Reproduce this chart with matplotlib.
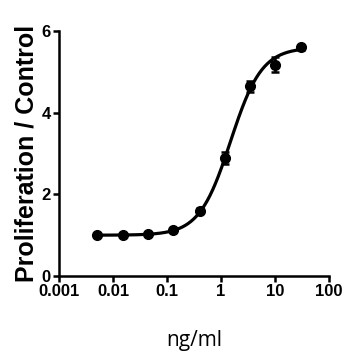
import numpy as np
import matplotlib.pyplot as plt

conc = [0.005, 0.015, 0.045, 0.13, 0.4, 1.2, 3.5, 10, 30]
ratio = [1.0, 1.0, 1.03, 1.13, 1.6, 2.9, 4.65, 5.18, 5.6]
err = [0.03, 0.03, 0.04, 0.05, 0.06, 0.15, 0.13, 0.18, 0.05]

# 4-parameter logistic fit (parameters)
bottom, top, ec50, hill = 1.0, 5.6, 1.5, 1.5

xs = np.logspace(np.log10(conc[0]), np.log10(conc[-1]), 300)
ys = bottom + (top - bottom) / (1 + (ec50 / xs) ** hill)

fig = plt.figure(figsize=(3.58, 3.58), dpi=100)
ax = fig.add_axes([0.165, 0.229, 0.754, 0.684])

ax.plot(xs, ys, color="black", lw=2.3)
ax.errorbar(conc, ratio, yerr=err, fmt="o", color="black", ms=7,
            capsize=3, elinewidth=1.8, capthick=1.8)

ax.set_xscale("log")
ax.set_xlim(0.001, 100)
ax.set_ylim(0, 6)
ax.set_xticks([0.001, 0.01, 0.1, 1, 10, 100])
ax.set_xticklabels(["0.001", "0.01", "0.1", "1", "10", "100"])
ax.minorticks_off()
ax.set_yticks([0, 2, 4, 6])

for s in ["top", "right"]:
    ax.spines[s].set_visible(False)
for s in ["left", "bottom"]:
    ax.spines[s].set_linewidth(1.8)
ax.tick_params(width=1.8, length=4, labelsize=12, pad=2)
for lab in ax.get_xticklabels() + ax.get_yticklabels():
    lab.set_fontweight("bold")
    lab.set_family("Liberation Sans")

ax.set_ylabel("Proliferation / Control", fontsize=18, fontweight="bold",
              family="Liberation Sans", labelpad=2)
ax.set_xlabel("ng/ml", fontsize=15, family="Open Sans", labelpad=22)

plt.savefig("out.png", dpi=100)
